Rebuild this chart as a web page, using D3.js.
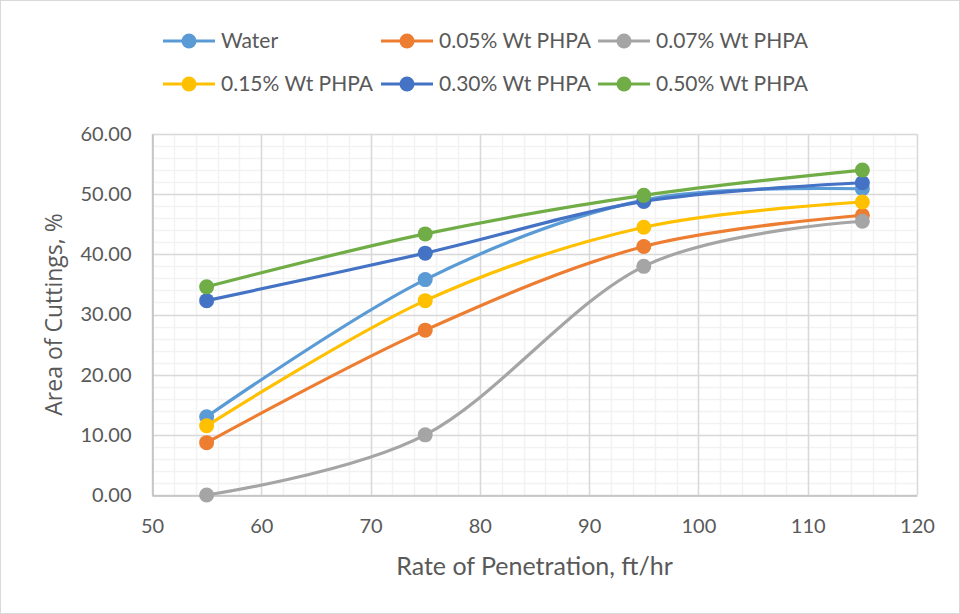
<!DOCTYPE html>
<html>
<head>
<meta charset="utf-8">
<script src="https://cdn.jsdelivr.net/npm/d3@7"></script>
<style>
  html, body { margin: 0; padding: 0; background: #fff; }
  svg { display: block; }
</style>
</head>
<body>
<svg id="chart" width="960" height="614"></svg>
<script>
// Rate of penetration (ft/hr) sampled for every fluid
const rop = [55, 75, 95, 115];

// Area of cuttings (%) per fluid
const water   = [13.0, 35.8, 49.0, 50.9];
const phpa005 = [8.7, 27.4, 41.3, 46.5];
const phpa007 = [0.0, 10.0, 38.0, 45.5];
const phpa015 = [11.5, 32.3, 44.5, 48.7];
const phpa030 = [32.3, 40.2, 48.8, 51.9];
const phpa050 = [34.6, 43.4, 49.8, 54.0];

const seriesNames  = ["Water", "0.05% Wt PHPA", "0.07% Wt PHPA", "0.15% Wt PHPA", "0.30% Wt PHPA", "0.50% Wt PHPA"];
const seriesValues = [water, phpa005, phpa007, phpa015, phpa030, phpa050];
const seriesColors = ["#5B9BD5", "#ED7D31", "#A5A5A5", "#FFC000", "#4472C4", "#70AD47"];

const xTicks = [50, 60, 70, 80, 90, 100, 110, 120];
const yTicks = [0, 10, 20, 30, 40, 50, 60];

const svg = d3.select("#chart");
const W = 960, H = 614;
const plot = { left: 152, right: 917, top: 134, bottom: 495 };
const font = "Lato, 'Open Sans', sans-serif";
const textColor = "#595959";

// outer chart frame
svg.append("rect")
  .attr("x", 0.5).attr("y", 0.5)
  .attr("width", W - 1).attr("height", H - 1)
  .attr("fill", "#fff").attr("stroke", "#D9D9D9");

const x = d3.scaleLinear().domain([50, 120]).range([plot.left, plot.right]);
const y = d3.scaleLinear().domain([0, 60]).range([plot.bottom, plot.top]);

// minor grid every 2 units
const grid = svg.append("g");
grid.selectAll("line.xminor")
  .data(d3.range(50, 120.01, 2))
  .join("line")
  .attr("x1", d => Math.round(x(d)) + 0.5).attr("x2", d => Math.round(x(d)) + 0.5)
  .attr("y1", plot.top).attr("y2", plot.bottom)
  .attr("stroke", "#F2F2F2").attr("stroke-width", 1.5);
grid.selectAll("line.yminor")
  .data(d3.range(0, 60.01, 2))
  .join("line")
  .attr("x1", plot.left).attr("x2", plot.right)
  .attr("y1", d => Math.round(y(d)) + 0.5).attr("y2", d => Math.round(y(d)) + 0.5)
  .attr("stroke", "#F2F2F2").attr("stroke-width", 1.5);

// major grid
grid.selectAll("line.xmajor")
  .data(xTicks)
  .join("line")
  .attr("x1", d => Math.round(x(d)) + 0.5).attr("x2", d => Math.round(x(d)) + 0.5)
  .attr("y1", plot.top).attr("y2", plot.bottom)
  .attr("stroke", "#D9D9D9").attr("stroke-width", 1.5);
grid.selectAll("line.ymajor")
  .data(yTicks)
  .join("line")
  .attr("x1", plot.left).attr("x2", plot.right)
  .attr("y1", d => Math.round(y(d)) + 0.5).attr("y2", d => Math.round(y(d)) + 0.5)
  .attr("stroke", "#D9D9D9").attr("stroke-width", 1.5);

// axes
const xAxis = d3.axisBottom(x).tickValues(xTicks).tickSize(0).tickPadding(23).tickFormat(d3.format("d"));
const yAxis = d3.axisLeft(y).tickValues(yTicks).tickSize(0).tickPadding(21).tickFormat(d3.format(".2f"));

const gx = svg.append("g").attr("transform", `translate(0,${plot.bottom + 0.5})`).call(xAxis);
const gy = svg.append("g").attr("transform", `translate(${plot.left + 0.5},0)`).call(yAxis);
[gx, gy].forEach(g => {
  g.select(".domain").attr("stroke", "#BFBFBF").attr("stroke-width", 1.5);
  g.selectAll("text").attr("fill", textColor).style("font-family", font).style("font-size", "20px");
});

// axis titles
svg.append("text")
  .attr("x", (plot.left + plot.right) / 2).attr("y", 575)
  .attr("text-anchor", "middle")
  .attr("fill", textColor)
  .style("font-family", font).style("font-size", "25px")
  .text("Rate of Penetration, ft/hr");

svg.append("text")
  .attr("transform", `translate(62,${(plot.top + plot.bottom) / 2}) rotate(-90)`)
  .attr("text-anchor", "middle")
  .attr("fill", textColor)
  .style("font-family", "'Open Sans', sans-serif").style("font-size", "23px")
  .text("Area of Cuttings, %");

// series lines with smoothing and markers
const line = d3.line()
  .x((d, i) => x(rop[i]))
  .y(d => y(d))
  .curve(d3.curveCatmullRom.alpha(0));

const series = svg.append("g").selectAll("g")
  .data(seriesValues.map((v, i) => ({ name: seriesNames[i], values: v, color: seriesColors[i] })))
  .join("g");

series.append("path")
  .attr("d", d => line(d.values))
  .attr("fill", "none")
  .attr("stroke", d => d.color)
  .attr("stroke-width", 3.2)
  .attr("stroke-linejoin", "round");

series.selectAll("circle")
  .data(d => d.values.map((v, i) => ({ v, i, color: d.color })))
  .join("circle")
  .attr("cx", d => x(rop[d.i]))
  .attr("cy", d => y(d.v))
  .attr("r", 7.5)
  .attr("fill", d => d.color);

// legend, two rows of three
const legendCols = [163, 381, 598];
const legendRows = [41, 84];
const legend = svg.append("g").selectAll("g")
  .data(seriesNames.map((n, i) => ({ name: n, color: seriesColors[i], col: i % 3, row: Math.floor(i / 3) })))
  .join("g")
  .attr("transform", d => `translate(${legendCols[d.col]},${legendRows[d.row]})`);

legend.append("line")
  .attr("x1", 0).attr("x2", 52)
  .attr("y1", 0).attr("y2", 0)
  .attr("stroke", d => d.color).attr("stroke-width", 3.2);
legend.append("circle")
  .attr("cx", 26).attr("cy", 0).attr("r", 7.5)
  .attr("fill", d => d.color);
legend.append("text")
  .attr("x", 58).attr("y", 0).attr("dy", "0.35em")
  .attr("fill", textColor)
  .style("font-family", font).style("font-size", "21px")
  .text(d => d.name);
</script>
</body>
</html>
